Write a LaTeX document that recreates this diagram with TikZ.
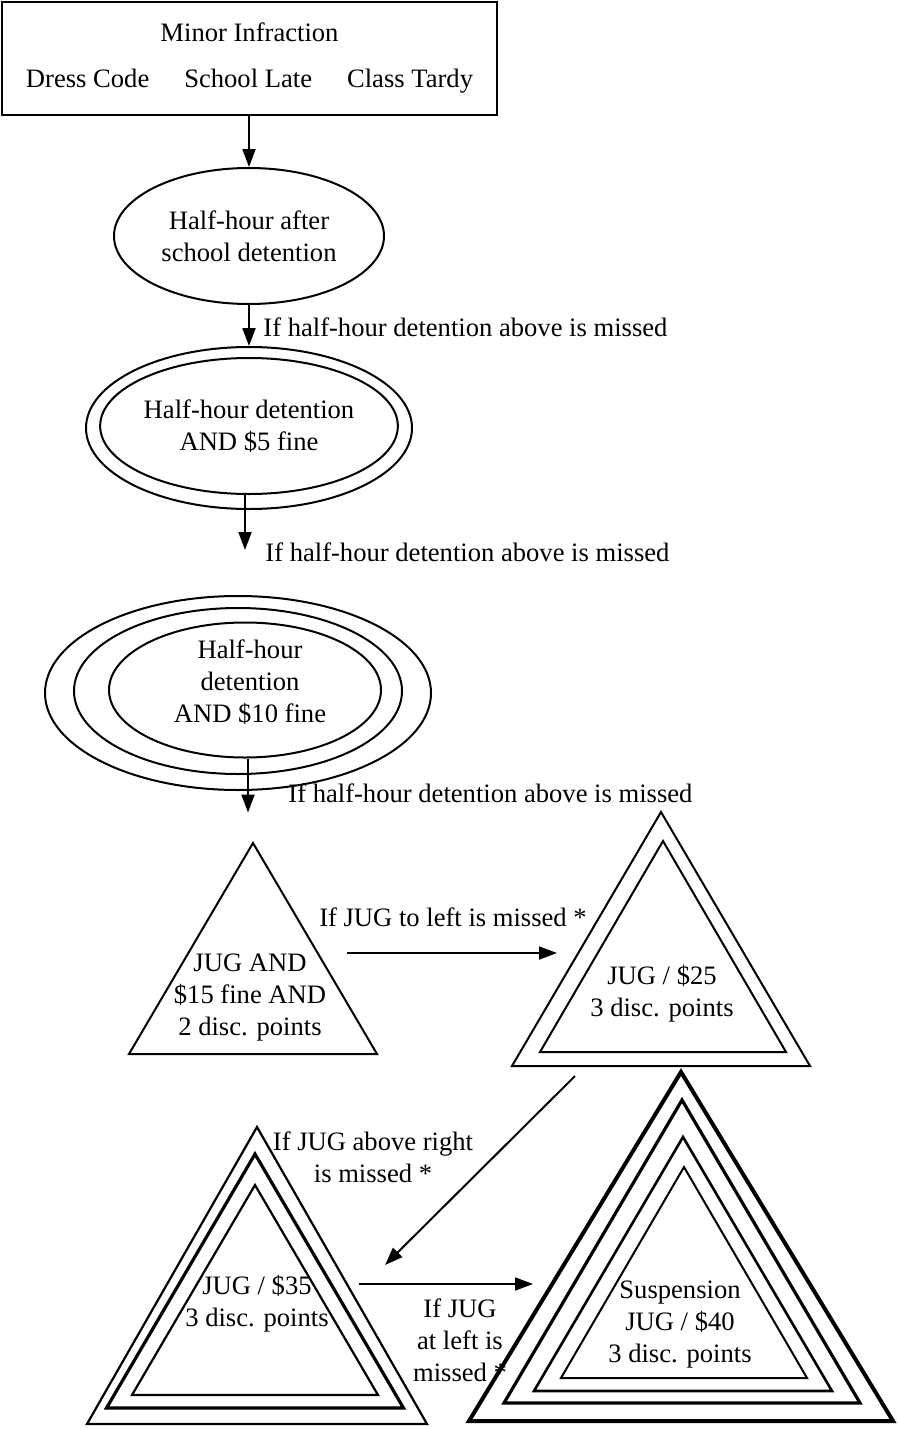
\documentclass[tikz,border=0pt]{standalone}
\usepackage{fontspec}
\setmainfont{Liberation Serif}
\usetikzlibrary{positioning,shapes.geometric,arrows.meta}
% one triangle: centre x, apex y, base y, half base, line width
\newcommand{\trig}[5]{\draw[line width=#5, line join=miter] (#1,#2) -- (#1+#4,#3) -- (#1-#4,#3) -- cycle;}

\begin{document}
\begin{tikzpicture}[x=0.5pt, y=-0.5pt,
		every node/.style={font=\fontsize{13.3}{16}\selectfont, align=center, inner sep=0pt},
		oval/.style={draw, ellipse, line width=1pt},
		arr/.style={-{Triangle[length=9pt,width=6.5pt]}, line width=1pt},
		note/.style={anchor=west}
		]
		\useasboundingbox (0,0) rectangle (898,1429);

		% minor infraction box
		\node[draw, line width=1.1pt, minimum width=247.5pt, minimum height=56.5pt] (infr) at (249.5,58.5)
			{Minor Infraction\\[7pt]Dress Code\hspace{17.5pt}School Late\hspace{17.5pt}Class Tardy};

		% detentions
		\node[oval, minimum width=135pt, minimum height=68pt] (e1) at (249,236) {Half-hour after\\school detention};
		\node[oval, minimum width=135pt, minimum height=68pt] (e2in) at (249,426) {Half-hour detention\\AND \$5 fine};
		\node[oval, minimum width=163pt, minimum height=81pt] (e2) at (249,428) {};
		\node[oval, minimum width=136pt, minimum height=67.5pt] (e3in) at (245,690) {};
		\node[oval, minimum width=164pt, minimum height=83pt] (e3mid) at (238,691) {};
		\node[oval, minimum width=193pt, minimum height=97pt] (e3) at (238,693) {};
		\node (e3txt) at (250,682) {Half-hour\\detention\\AND \$10 fine};

		\draw[arr] (infr.south -| e1.north) -- (e1.north);
		\draw[arr] (e1.south) -- (e2.north);
		\node[note] (l1) at (263,327) {If half-hour detention above is missed};
		\path (e2in.south) ++(-4,55) coordinate (m2);
		\draw[arr] (e2in.south -| m2) -- (m2);
		\node[note] (l2) at (265,552) {If half-hour detention above is missed};
		\path (e3in.south) ++(3,54) coordinate (m3);
		\draw[arr] (e3in.south -| m3) -- (m3);
		\node[note] (l3) at (288,793) {If half-hour detention above is missed};

		% JUG triangles
		\trig{253}{843}{1054}{124}{1pt}
		\node (t1) at (250,998) {JUG AND\\\$15 fine AND\\2 disc. points};

		\trig{661}{812}{1066}{149}{1pt}
		\trig{663}{841}{1052}{123}{1pt}
		\node (t2) at (662,994) {JUG / \$25\\3 disc. points};

		\trig{257}{1127}{1424}{170}{1.1pt}
		\trig{255}{1154}{1408}{148.5}{1.6pt}
		\trig{255}{1185}{1395}{123}{1.1pt}
		\node (t3) at (257,1304) {JUG / \$35\\3 disc. points};

		\trig{681}{1072}{1421}{212}{2pt}
		\trig{682}{1100}{1403}{178}{1.6pt}
		\trig{683}{1137}{1391}{149}{1.3pt}
		\trig{684}{1167}{1378}{123}{1pt}
		\node (t4) at (680,1325) {Suspension\\JUG / \$40\\3 disc. points};

		% JUG arrows
		\coordinate (a1) at (347,953);
		\coordinate (b1) at (557,953);
		\draw[arr] (a1) -- (b1);
		\node (l4) at (453,917) {If JUG to left is missed *};
		\coordinate (a2) at (575,1076);
		\coordinate (b2) at (385,1265);
		\draw[arr] (a2) -- (b2);
		\node (l5) at (373,1157) {If JUG above right\\is missed *};
		\coordinate (a3) at (359,1284);
		\coordinate (b3) at (533,1284);
		\draw[arr] (a3) -- (b3);
		\node (l6) at (460,1340) {If JUG\\at left is\\missed *};
	\end{tikzpicture}
\end{document}
